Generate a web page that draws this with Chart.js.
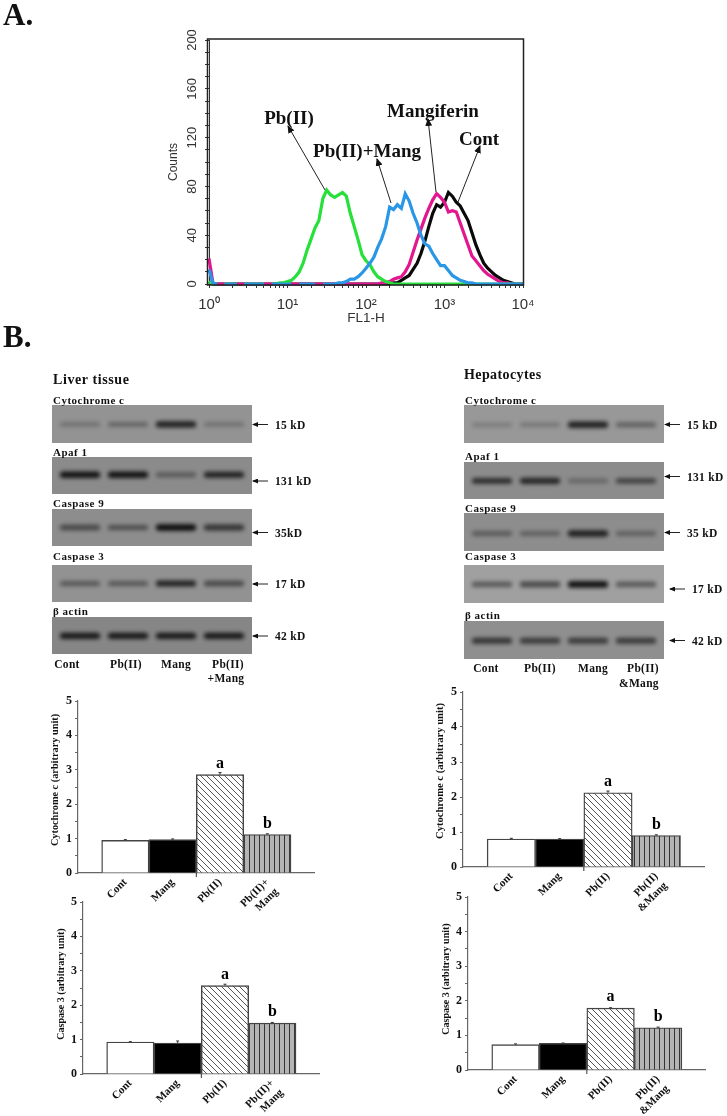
<!DOCTYPE html>
<html>
<head>
<meta charset="utf-8">
<title>Pb(II) and mangiferin</title>
<script src="https://cdn.jsdelivr.net/npm/chart.js@4"></script>
<style>
    html, body { margin: 0; background: #fff; }
    #page { position: relative; width: 727px; height: 1116px; overflow: hidden; filter: blur(0.45px); }
    #page canvas { position: absolute; }
    #page svg { position: absolute; left: 0; top: 0; }
    .t { position: absolute; white-space: nowrap; font: bold 11px "Liberation Serif", serif; color: #111; transform: translateY(-50%); }
    .c { transform: translate(-50%, -50%); }
    .r { transform: translate(-50%, -50%) rotate(-90deg); }
</style>
</head>
<body>
<div id="page"></div>
<script>
// flow cytometry histogram: FL1 channels, 20 per decade
const fl1Channels = [1, 1.12, 1.26, 1.41, 1.58, 1.78, 2, 2.24, 2.51, 2.82, 3.16, 3.55, 3.98, 4.47, 5.01, 5.62, 6.31, 7.08, 7.94, 8.91,
    10, 11.2, 12.6, 14.1, 15.8, 17.8, 20, 22.4, 25.1, 28.2, 31.6, 35.5, 39.8, 44.7, 50.1, 56.2, 63.1, 70.8, 79.4, 89.1,
    100, 112, 126, 141, 158, 178, 200, 224, 251, 282, 316, 355, 398, 447, 501, 562, 631, 708, 794, 891,
    1000, 1122, 1259, 1413, 1585, 1778, 1995, 2239, 2512, 2818, 3162, 3548, 3981, 4467, 5012, 5623, 6310, 7079, 7943, 8913, 10000];
const blueCounts = [12, 1, 0, null, 0, 0, 0, 0, null, 0, 0, 0, 0, 0, 0, null, 0, 0, 0, 0,
    0, 0, null, 0, 0, 0, 0, 0, null, 0, 0, 0, 0, 1, 1, 2, 4, 4, 6, 9,
    13, 17, 22, 30, 37, 47, 63, 61, 65, 62, 74, 68, 58, 50, 40, 33, 31, 25, 20, 15,
    15, 11, 7, 5, 3, 2, 1, 1, 0, 0, 0, 0, 0, 0, 0, 0, 0, 0, 0, 0, 0];
const greenCounts = [2, 0, 0, null, 0, 0, 0, 0, null, 0, 0, 0, 0, 0, 0, null, 0, 0, 1, 1,
    2, 3, 6, 10, 17, 28, 37, 46, 52, 70, 77, 73, 71, 73, 75, 72, 58, 47, 36, 24,
    19, 16, 10, 6, 4, 2, 1, 0, 0, 0, 0, 0, 0, 0, 0, 0, 0, 0, 0, 0,
    0, 0, 0, 0, 0, 0, 0, 0, 0, 0, 0, 0, 0, 0, 0, 0, 0, 0, 0, 0, 0];
const magentaCounts = [21, 1, 0, 0, 0, 0, 0, 0, 0, 0, 0, 0, 0, 0, 0, 0, 0, 0, 0, 0,
    0, 0, 0, 0, 0, 0, 0, 0, 0, 0, 0, 0, 0, 0, 0, 0, 0, 0, 0, 0,
    0, 0, 0, 0, 1, 1, 2, 4, 5, 6, 10, 16, 26, 36, 45, 54, 62, 69, 74, 71,
    67, 59, 60, 59, 50, 41, 32, 23, 19, 15, 11, 8, 6, 4, 2, 1, 1, 0, 0, 0, 0];
const blackCounts = [2, 0, 0, 0, 0, 0, 0, 0, 0, 0, 0, 0, 0, 0, 0, 0, 0, 0, 0, 0,
    0, 0, 0, 0, 0, 0, 0, 0, 0, 0, 0, 0, 0, 0, 0, 0, 0, 0, 0, 0,
    0, 0, 0, 0, 0, 0, 0, 1, 1, 3, 5, 7, 12, 17, 25, 35, 47, 58, 65, 63,
    67, 75, 72, 67, 64, 58, 52, 42, 32, 24, 17, 13, 10, 7, 5, 3, 2, 1, 0, 0, 0];
const fl1TickLabels = { 1: '10⁰', 10: '10¹', 100: '10²', 1000: '10³', 10000: '10⁴' };

// densitometry bars
const liverLabels = ['', 'Cont', 'Mang', 'Pb(II)', ['Pb(II)+', 'Mang'], ''];
const hepatoLabels = ['', 'Cont', 'Mang', 'Pb(II)', ['Pb(II)', '&Mang'], ''];
const barMarks = ['', '', 'a', 'b'];
const liverCytValues = [0.95, 0.97, 2.86, 1.12];
const liverCytErrors = [0.02, 0.02, 0.06, 0.02];
const liverCasValues = [0.93, 0.90, 2.57, 1.48];
const liverCasErrors = [0.01, 0.06, 0.04, 0.02];
const hepatoCytValues = [0.80, 0.80, 2.12, 0.90];
const hepatoCytErrors = [0.02, 0.01, 0.05, 0.02];
const hepatoCasValues = [0.735, 0.77, 1.79, 1.22];
const hepatoCasErrors = [0.02, 0.01, 0.01, 0.02];

// blot band strength per lane
const liverBlots = [[0.25, 0.35, 0.85, 0.25], [0.95, 0.95, 0.4, 0.85], [0.55, 0.5, 1, 0.7], [0.45, 0.45, 0.85, 0.55], [0.9, 0.9, 0.9, 0.9]];
const hepatoBlots = [[0.2, 0.25, 0.85, 0.4], [0.75, 0.8, 0.3, 0.6], [0.4, 0.35, 0.85, 0.35], [0.5, 0.6, 0.95, 0.5], [0.7, 0.65, 0.65, 0.65]];
const blotNames = ['Cytochrome c', 'Apaf 1', 'Caspase 9', 'Caspase 3', 'β actin'];
const liverKd = ['15 kD', '131 kD', '35kD', '17 kD', '42 kD'];
const hepatoKd = ['15 kD', '131 kD', '35 kD', '17 kD', '42 kD'];
const laneLabels = ['Cont', 'Pb(II)', 'Mang', 'Pb(II)'];

Chart.defaults.animation = false;
Chart.defaults.responsive = false;
Chart.defaults.font.family = '"Liberation Serif", serif';
Chart.defaults.color = '#111';
Chart.defaults.plugins.legend.display = false;
Chart.defaults.plugins.tooltip.enabled = false;

const page = document.getElementById('page');
const svgNs = 'http://www.w3.org/2000/svg';

function addText(str, x, y, size, center, extra) {
    const d = document.createElement('div');
    d.className = center === 'r' ? 't r' : center ? 't c' : 't';
    d.textContent = str;
    d.style.left = x + 'px';
    d.style.top = y + 'px';
    d.style.fontSize = size + 'px';
    if (extra) d.style.letterSpacing = extra;
    page.appendChild(d);
}

// canvas sized so that the plot area lands on the given box
function plotCanvas(l, t, r, b, pl, pt, pr, pb) {
    const c = document.createElement('canvas');
    c.width = r - l + pl + pr;
    c.height = b - t + pt + pb;
    c.style.left = (l - pl) + 'px';
    c.style.top = (t - pt) + 'px';
    page.appendChild(c);
    return c;
}

const svg = document.createElementNS(svgNs, 'svg');
svg.setAttribute('width', 727);
svg.setAttribute('height', 1116);
svg.innerHTML = '<defs>' +
    '<marker id="h" markerWidth="8" markerHeight="7" refX="7" refY="3.5" orient="auto" markerUnits="userSpaceOnUse"><path d="M0,0 L8,3.5 L0,7 Z" fill="#111"/></marker>' +
    '<marker id="s" markerWidth="6" markerHeight="5" refX="5" refY="2.5" orient="auto" markerUnits="userSpaceOnUse"><path d="M0,0 L6,2.5 L0,5 Z" fill="#111"/></marker>' +
    '</defs>';

function addArrow(x1, y1, x2, y2, head) {
    const l = document.createElementNS(svgNs, 'line');
    l.setAttribute('x1', x1);
    l.setAttribute('y1', y1);
    l.setAttribute('x2', x2);
    l.setAttribute('y2', y2);
    l.setAttribute('stroke', '#222');
    l.setAttribute('stroke-width', 1);
    l.setAttribute('marker-end', 'url(#' + (head || 'h') + ')');
    svg.appendChild(l);
}

// ---- A. histogram
const framePlugin = {
    id: 'frame',
    afterDraw(chart) {
        const a = chart.chartArea, ctx = chart.ctx;
        ctx.save();
        ctx.strokeStyle = '#222';
        ctx.lineWidth = 1.5;
        ctx.strokeRect(a.left - 1.5, a.top - 1, a.width + 2, a.height + 2);
        ctx.restore();
    }
};

function histLine(label, values, color) {
    return { label, data: values, borderColor: color, borderWidth: 3.2, pointRadius: 0, clip: false };
}

const sansFamily = '"Liberation Sans", sans-serif';
new Chart(plotCanvas(209, 40, 523, 284, 43, 10, 24, 42), {
    type: 'line',
    data: {
        labels: fl1Channels,
        datasets: [
            histLine('Pb(II)+Mang', blueCounts, '#2a97e6'),
            histLine('Pb(II)', greenCounts, '#27e03a'),
            histLine('Mangiferin', magentaCounts, '#e2168e'),
            histLine('Cont', blackCounts, '#0a0a0a')
        ]
    },
    options: {
        layout: { padding: { top: 10, right: 24 } },
        scales: {
            x: {
                type: 'logarithmic', min: 1, max: 10000,
                afterFit: s => { s.height = 42; },
                grid: { drawOnChartArea: false, tickLength: 4, color: '#333' },
                border: { color: '#333' },
                ticks: { autoSkip: false, maxRotation: 0, padding: 8, font: { family: sansFamily, size: 15 }, color: '#333', callback: v => fl1TickLabels[v] || '' },
                title: { display: true, text: 'FL1-H', padding: 0, color: '#333', font: { family: sansFamily, size: 13.5 } }
            },
            y: {
                min: 0, max: 200,
                afterFit: s => { s.width = 43; },
                grid: { drawOnChartArea: false, tickLength: 4, color: '#333' },
                border: { color: '#333' },
                ticks: { stepSize: 10, autoSkip: false, minRotation: 90, maxRotation: 90, crossAlign: 'center', padding: 2, font: { family: sansFamily, size: 13 }, color: '#333', callback: v => v % 40 === 0 ? v : '' },
                title: { display: true, text: 'Counts', padding: 0, color: '#333', font: { family: sansFamily, size: 12 } }
            }
        }
    },
    plugins: [framePlugin]
});

addText('A.', 3, 15, 31);
addText('B.', 3, 337, 31);
addText('Pb(II)', 289, 118, 19, true);
addText('Pb(II)+Mang', 367, 151, 19, true);
addText('Mangiferin', 433, 111, 19, true);
addText('Cont', 479, 139, 19, true);
addArrow(325, 190, 288, 126);
addArrow(391, 203, 377, 159);
addArrow(436, 192, 428, 119);
addArrow(458, 202, 480, 146);

// ---- B. blots, one small band chart per panel
const softBands = {
    id: 'softBands',
    beforeDatasetsDraw(chart) { chart.ctx.save(); chart.ctx.filter = 'blur(2px)'; },
    afterDatasetsDraw(chart) { chart.ctx.restore(); }
};

function blotChart(x, y, h, shade, centre, levels) {
    const c = plotCanvas(x + 4, y, x + 196, y + h, 4, 0, 4, 0);
    c.style.background = shade;
    new Chart(c, {
        type: 'bar',
        data: {
            labels: ['1', '2', '3', '4'],
            datasets: [{
                data: levels.map(v => [centre - 5 - v * 4, centre + 5 + v * 4]),
                backgroundColor: levels.map(v => 'rgba(10,10,10,' + v + ')'),
                borderRadius: 4,
                borderSkipped: false,
                barPercentage: 0.84,
                categoryPercentage: 1
            }]
        },
        options: {
            layout: { padding: { left: 4, right: 4 } },
            scales: { x: { display: false }, y: { display: false, min: 0, max: 100 } }
        },
        plugins: [softBands]
    });
}

const liverPanels = [[405, 38, '#939393', 49], [457, 37, '#8b8b8b', 52], [509, 37, '#8d8d8d', 50], [565, 37, '#929292', 50], [617, 37, '#868686', 49]];
const hepatoPanels = [[405, 38, '#989898', 48], [462, 37, '#8c8c8c', 49], [513, 38, '#8d8d8d', 46], [565, 38, '#a0a0a0', 49], [621, 38, '#8f8f8f', 48]];
liverPanels.forEach((p, i) => blotChart(52, p[0], p[1], p[2], p[3], liverBlots[i]));
hepatoPanels.forEach((p, i) => blotChart(464, p[0], p[1], p[2], p[3], hepatoBlots[i]));

addText('Liver tissue', 53, 380, 14, false, '0.6px');
addText('Hepatocytes', 464, 375, 14, false, '0.4px');
[399.5, 452, 503, 556, 611].forEach((y, i) => addText(blotNames[i], 53, y, 11, false, '0.5px'));
[399.5, 456, 507.5, 556, 615].forEach((y, i) => addText(blotNames[i], 465, y, 11, false, '0.5px'));
[424.5, 481, 532.5, 584, 636].forEach((y, i) => {
    addText(liverKd[i], 275, y, 11.5, false, '0.3px');
    addArrow(268, y, 253, y, 's');
});
[424.5, 476.5, 532.5, 589, 640.5].forEach((y, i) => {
    const shift = i > 2 ? 5 : 0;
    addText(hepatoKd[i], 687 + shift, y, 11.5, false, '0.3px');
    addArrow(680 + shift, y, 665 + shift, y, 's');
});
[67, 126, 176, 228].forEach((x, i) => addText(laneLabels[i], x, 664, 11.5, true, '0.3px'));
addText('+Mang', 226, 678, 11.5, true, '0.3px');
[486, 540, 593, 643].forEach((x, i) => addText(laneLabels[i], x, 668, 11.5, true, '0.3px'));
addText('&Mang', 639, 683, 11.5, true, '0.3px');

// ---- B. densitometry bars
function hatchPattern(size, draw) {
    const c = document.createElement('canvas');
    c.width = size;
    c.height = size;
    draw(c.getContext('2d'));
    return c.getContext('2d').createPattern(c, 'repeat');
}
const diagonal = hatchPattern(6, g => {
    g.fillStyle = '#fff';
    g.fillRect(0, 0, 6, 6);
    g.strokeStyle = '#555';
    g.lineWidth = 1;
    g.beginPath();
    g.moveTo(-1, -1); g.lineTo(7, 7);
    g.moveTo(-1, 5); g.lineTo(1, 7);
    g.moveTo(5, -1); g.lineTo(7, 1);
    g.stroke();
});
const stripes = hatchPattern(5, g => {
    g.fillStyle = '#b4b4b4';
    g.fillRect(0, 0, 5, 5);
    g.fillStyle = '#333';
    g.fillRect(1, 0, 1, 5);
});

const barExtras = {
    id: 'barExtras',
    afterDatasetsDraw(chart) {
        const { ctx, scales } = chart;
        const ds = chart.data.datasets[0];
        ctx.save();
        ctx.strokeStyle = '#333';
        ctx.fillStyle = '#000';
        ctx.lineWidth = 1;
        ctx.textAlign = 'center';
        ctx.textBaseline = 'middle';
        ctx.font = 'bold 16px "Liberation Serif", serif';
        chart.getDatasetMeta(0).data.forEach((bar, i) => {
            const k = i - 1;
            if (k < 0 || k > 3) return;
            const top = scales.y.getPixelForValue(ds.data[i] + ds.errors[k]);
            ctx.beginPath();
            ctx.moveTo(bar.x, bar.y);
            ctx.lineTo(bar.x, top);
            ctx.moveTo(bar.x - 1.5, top);
            ctx.lineTo(bar.x + 1.5, top);
            ctx.stroke();
            if (barMarks[k]) ctx.fillText(barMarks[k], bar.x, bar.y - 11);
        });
        // single mark under the axis, between the 2nd and 3rd bar
        const mid = scales.x.getPixelForValue(2.5);
        ctx.beginPath();
        ctx.moveTo(mid, scales.y.bottom);
        ctx.lineTo(mid, scales.y.bottom + 4);
        ctx.stroke();
        ctx.restore();
    }
};

function barChart(box, labels, values, errors) {
    new Chart(plotCanvas(box[0], box[1], box[2], box[3], 30, 12, 12, 50), {
        type: 'bar',
        data: {
            labels,
            datasets: [{
                data: [null, ...values, null],
                errors,
                backgroundColor: ['#fff', '#fff', '#000', diagonal, stripes, '#fff'],
                borderColor: '#444',
                borderWidth: 1.4,
                barPercentage: 1,
                categoryPercentage: 1
            }]
        },
        options: {
            layout: { padding: { top: 12, right: 12 } },
            scales: {
                x: {
                    offset: false,
                    afterFit: s => { s.height = 50; },
                    grid: { display: false, drawTicks: false },
                    border: { color: '#666', width: 1.2 },
                    ticks: { autoSkip: false, minRotation: 45, maxRotation: 45, padding: 3, font: { weight: 'bold', size: 11 } }
                },
                y: {
                    min: 0, max: 5,
                    afterFit: s => { s.width = 30; },
                    grid: { drawOnChartArea: false, tickLength: 3, color: '#666' },
                    border: { color: '#666', width: 1.2 },
                    ticks: { stepSize: 0.5, autoSkip: false, padding: 3, font: { weight: 'bold', size: 12 }, callback: v => Number.isInteger(v) ? v : '' }
                }
            }
        },
        plugins: [barExtras]
    });
}

barChart([78, 701, 315, 873], liverLabels, liverCytValues, liverCytErrors);
barChart([83, 902, 320, 1074], liverLabels, liverCasValues, liverCasErrors);
barChart([463, 692, 705, 867], hepatoLabels, hepatoCytValues, hepatoCytErrors);
barChart([468, 897, 706, 1070], hepatoLabels, hepatoCasValues, hepatoCasErrors);
addText('Cytochrome c (arbitrary unit)', 54, 780, 10.3, 'r');
addText('Caspase 3 (arbitrary unit)', 60, 984, 10, 'r');
addText('Cytochrome c (arbitrary unit)', 439, 771, 10.6, 'r');
addText('Caspase 3 (arbitrary unit)', 445, 979, 10, 'r');

page.appendChild(svg);
</script>
</body>
</html>
